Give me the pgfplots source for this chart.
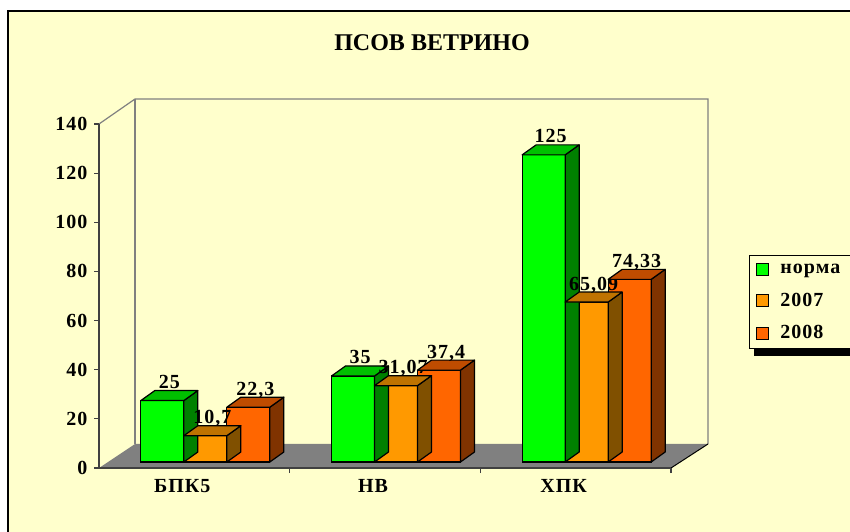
\documentclass[border=0pt]{standalone}
\usepackage{fontspec}
\setmainfont{Liberation Serif}
\newfontfamily\lsfont{Liberation Serif}[LetterSpace=5]
\usepackage{pgfplots}
\usepackage{pgfplotstable}
\pgfplotsset{compat=1.18}
\definecolor{bg}{HTML}{FFFFCC}
\definecolor{gF}{HTML}{00FF00}\definecolor{gT}{HTML}{00C000}\definecolor{gS}{HTML}{008000}
\definecolor{oF}{HTML}{FF9900}\definecolor{oT}{HTML}{BF7300}\definecolor{oS}{HTML}{805000}
\definecolor{rF}{HTML}{FF6600}\definecolor{rT}{HTML}{BF4C00}\definecolor{rS}{HTML}{803300}
\definecolor{floor}{HTML}{808080}

\pgfplotstableread{
x g o r
0.5 25 10.7 22.3
1.5 35 31.07 37.4
2.5 125 65.09 74.33
}\data

\newcommand\lf{\lsfont\bfseries\fontsize{20bp}{24bp}\selectfont}

% 3D top and side faces of a bar: name, left x, right x, top colour, side colour
\newcommand\declbar[5]{%
\pgfdeclareplotmark{#1}{%
\pgfmathsetmacro\h{2.457143*\val}%
\filldraw[fill=#5,draw=black,line width=1.2bp,line join=round] (#3bp,0bp) -- (#3bp+14bp,10bp) -- (#3bp+14bp,10bp-\h bp) -- (#3bp,-\h bp) -- cycle;
\filldraw[fill=#4,draw=black,line width=1.2bp,line join=round] (#2bp,0bp) -- (#2bp+14bp,10bp) -- (#3bp+14bp,10bp) -- (#3bp,0bp) -- cycle;
}}
\declbar{gbar}{-64.5}{-21.5}{gT}{gS}
\declbar{obar}{-21.5}{21.5}{oT}{oS}
\declbar{rbar}{21.5}{64.5}{rT}{rS}

\pgfplotsset{
 lab3d/.style={only marks, forget plot, nodes near coords,
   every node near coord/.append style={anchor=base, xshift=#1, yshift=12bp, font=\lf, text=black, inner sep=0pt}},
 front/.style={ybar, bar shift=#1, draw=black, line width=1.2bp}
}

\begin{document}
\begin{tikzpicture}
\useasboundingbox (0,0) rectangle (850bp,532bp);
\fill[white] (0,0) rectangle (850bp,532bp);
\fill[bg] (8bp,-2bp) rectangle (852bp,521bp);
\draw[line width=2bp] (8bp,-2bp) -- (8bp,521bp) -- (853bp,521bp);
% walls and floor
\draw[gray, line width=1.2bp] (99bp,408bp) -- (135bp,433bp) -- (708bp,433bp) -- (708bp,88bp);
\draw[gray, line width=1.2bp] (135bp,433bp) -- (135bp,88bp);
\fill[floor] (99bp,64bp) -- (671bp,64bp) -- (708bp,88bp) -- (135bp,88bp) -- cycle;
\draw[black, line width=1bp] (671bp,64bp) -- (708bp,88bp);
% legend shadow
\fill[black] (754bp,176bp) rectangle (860bp,272bp);

\begin{axis}[at={(99bp,64bp)}, anchor=south west, scale only axis,
  width=572bp, height=344bp, xmin=0, xmax=3, ymin=0, ymax=140,
  axis x line*=bottom, axis y line*=left,
  axis line style={line width=1.5bp, draw=black!75},
  tick style={line width=1.2bp, draw=black!75},
  ytick={0,20,...,140}, xtick={1,2,3}, xticklabels={,,},
  extra x ticks={0.5,1.5,2.5}, extra x tick labels={БПК5,НВ,ХПК},
  extra x tick style={major tick length=0pt, xticklabel style={xshift=-12bp, yshift=-8bp}},
  tick align=outside, major tick length=5bp,
  tick label style={font=\lf},
  yticklabel style={xshift=-3bp},
  /pgf/number format/assume math mode=true]
\end{axis}

\begin{axis}[at={(110bp,70bp)}, anchor=south west, scale only axis,
  width=572bp, height=344bp, xmin=0, xmax=3, ymin=0, ymax=140,
  hide axis, clip=false, bar width=43bp,
  legend style={at={(1.1171,0.6017)}, anchor=north west, draw=black, line width=1bp,
    fill=bg, font=\lf, inner xsep=7bp, inner ysep=6.5bp, row sep=14bp,
    /tikz/every odd column/.append style={column sep=9bp}},
  legend cell align=left,
  legend image code/.code={\draw[#1, line width=1bp] (0bp,-6bp) rectangle (12bp,6bp);},
  /pgf/number format/use comma, /pgf/number format/fixed,
  /pgf/number format/precision=2, /pgf/number format/assume math mode=true]
\addplot[front=-43bp, fill=gF] table[x=x,y=g]{\data};
\addlegendentry{\makebox[75bp][l]{норма}}
\addplot[lab3d=-36bp, mark=gbar, visualization depends on={\thisrow{g} \as \val}, point meta=\thisrow{g}] table[x=x,y=g]{\data};
\addplot[front=0bp, fill=oF] table[x=x,y=o]{\data};
\addlegendentry{\makebox[75bp][l]{2007}}
\addplot[lab3d=7bp, mark=obar, visualization depends on={\thisrow{o} \as \val}, point meta=\thisrow{o}] table[x=x,y=o]{\data};
\addplot[front=43bp, fill=rF] table[x=x,y=r]{\data};
\addlegendentry{\makebox[75bp][l]{2008}}
\addplot[lab3d=50bp, mark=rbar, visualization depends on={\thisrow{r} \as \val}, point meta=\thisrow{r}] table[x=x,y=r]{\data};
\end{axis}

\node[font=\bfseries\fontsize{24bp}{28bp}\selectfont] at (432bp,489bp) {ПСОВ ВЕТРИНО};
\end{tikzpicture}
\end{document}
